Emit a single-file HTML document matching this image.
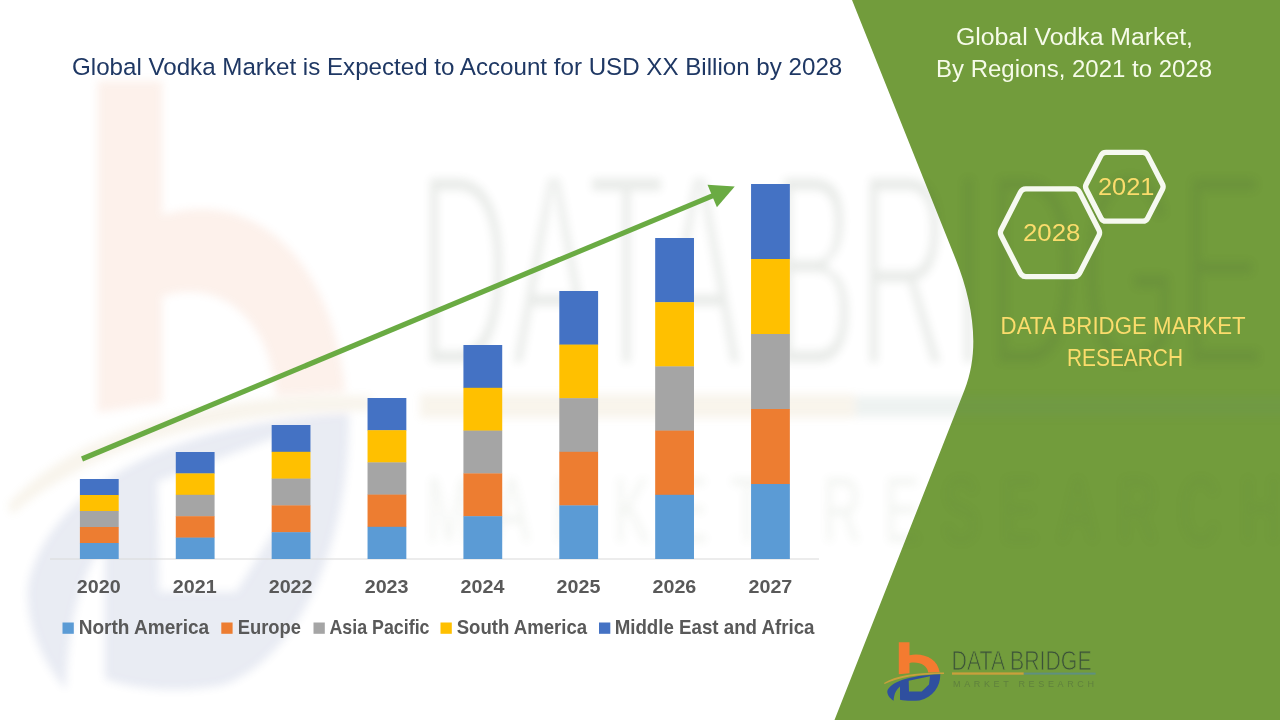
<!DOCTYPE html>
<html>
<head>
<meta charset="utf-8">
<title>Global Vodka Market</title>
<style>
html,body{margin:0;padding:0;background:#fff;}
body{width:1280px;height:720px;overflow:hidden;font-family:"Liberation Sans",sans-serif;}
svg{display:block;}
text{font-family:"Liberation Sans",sans-serif;}
</style>
</head>
<body>
<svg width="1280" height="720" viewBox="0 0 1280 720">
  <defs>
    <filter id="blur6" x="-20%" y="-20%" width="140%" height="140%"><feGaussianBlur stdDeviation="5"/></filter>
    <filter id="blur3" x="-5%" y="-5%" width="110%" height="110%"><feGaussianBlur stdDeviation="4"/><feColorMatrix type="saturate" values="0.85"/></filter>
  <mask id="thin" maskUnits="userSpaceOnUse" x="945" y="645" width="160" height="32">
      <rect x="945" y="645" width="160" height="32" fill="#000"/>
      <text x="951.6" y="669.8" font-size="27" fill="#fff" stroke="#000" stroke-width="0.9" textLength="140" lengthAdjust="spacingAndGlyphs">DATA BRIDGE</text>
    </mask>
    <g id="logoart">
      <path d="M898.8 642.3 H909.5 V655.2 C924 652.5 937.5 659 939.7 672.2 L928.2 672.6 C927.5 665.5 919.5 661.2 909.5 663 V673.2 L898.8 674.2 Z" fill="#f47b30"/>
      <path d="M884 683 C896 675.5 918 672.2 944 672.6 L944 674 C918 674 898 677.5 884.6 684 Z" fill="#c9a03c"/>
      <path fill-rule="evenodd" fill="#2f4f9f" d="M887.3 691 C890 682.5 908 675.2 940.3 674.2 C940.5 686 933 697.5 919.5 700.4 C912 701.2 905 700.8 900 699.8 V686.5 C896.5 689.5 894 693.5 893.6 700.8 C889.5 698 887 694.5 887.3 691 Z M908.7 680.8 L930 676.2 L929 684.6 L921.7 691.4 L909 691.4 Z"/>
      <rect x="945" y="645" width="160" height="32" fill="#3b5238" mask="url(#thin)"/>
      <rect x="952" y="672.4" width="71.8" height="2.3" fill="#c9a03c"/>
      <rect x="1023.8" y="672.6" width="71.8" height="2" fill="#5f9080"/>
      <text x="953" y="686.6" font-size="9" fill="#56733f" opacity="0.65" textLength="141" lengthAdjust="spacing">MARKET  RESEARCH</text>
    </g>
  </defs>
  <rect x="0" y="0" width="1280" height="720" fill="#ffffff"/>

  <!-- GREEN PANEL -->
  <path id="panel" d="M852 0 L955.7 259.2 C972.6 301.6 980.7 348.9 964.6 389.8 L834.5 720 L1280 720 L1280 0 Z" fill="#729c3c"/>

  <!-- WATERMARK: stretched logo over everything below the chart -->
  <g opacity="0.11" filter="url(#blur3)">
    <use href="#logoart" transform="translate(97.5 81) scale(6.06 10.4) translate(-898.8 -642.3)"/>
  </g>

  <!-- TITLE -->
  <text x="72" y="75" font-size="23.7" fill="#1f3864" textLength="770.3" lengthAdjust="spacingAndGlyphs">Global Vodka Market is Expected to Account for USD XX Billion by 2028</text>

  <!-- AXIS -->
  <rect x="50" y="558.5" width="769" height="1" fill="#d9d9d9"/>

  <!-- BARS -->
  <g id="bars">
    <rect x="79.90" y="479.00" width="38.8" height="16.30" fill="#4472c4"/>
    <rect x="79.90" y="495.00" width="38.8" height="16.30" fill="#ffc000"/>
    <rect x="79.90" y="511.00" width="38.8" height="16.30" fill="#a5a5a5"/>
    <rect x="79.90" y="527.00" width="38.8" height="16.30" fill="#ed7d31"/>
    <rect x="79.90" y="543.00" width="38.8" height="16.00" fill="#5b9bd5"/>
    <rect x="175.78" y="452.00" width="38.8" height="21.70" fill="#4472c4"/>
    <rect x="175.78" y="473.40" width="38.8" height="21.70" fill="#ffc000"/>
    <rect x="175.78" y="494.80" width="38.8" height="21.70" fill="#a5a5a5"/>
    <rect x="175.78" y="516.20" width="38.8" height="21.70" fill="#ed7d31"/>
    <rect x="175.78" y="537.60" width="38.8" height="21.40" fill="#5b9bd5"/>
    <rect x="271.66" y="425.00" width="38.8" height="27.10" fill="#4472c4"/>
    <rect x="271.66" y="451.80" width="38.8" height="27.10" fill="#ffc000"/>
    <rect x="271.66" y="478.60" width="38.8" height="27.10" fill="#a5a5a5"/>
    <rect x="271.66" y="505.40" width="38.8" height="27.10" fill="#ed7d31"/>
    <rect x="271.66" y="532.20" width="38.8" height="26.80" fill="#5b9bd5"/>
    <rect x="367.54" y="398.00" width="38.8" height="32.50" fill="#4472c4"/>
    <rect x="367.54" y="430.20" width="38.8" height="32.50" fill="#ffc000"/>
    <rect x="367.54" y="462.40" width="38.8" height="32.50" fill="#a5a5a5"/>
    <rect x="367.54" y="494.60" width="38.8" height="32.50" fill="#ed7d31"/>
    <rect x="367.54" y="526.80" width="38.8" height="32.20" fill="#5b9bd5"/>
    <rect x="463.42" y="345.00" width="38.8" height="43.10" fill="#4472c4"/>
    <rect x="463.42" y="387.80" width="38.8" height="43.10" fill="#ffc000"/>
    <rect x="463.42" y="430.60" width="38.8" height="43.10" fill="#a5a5a5"/>
    <rect x="463.42" y="473.40" width="38.8" height="43.10" fill="#ed7d31"/>
    <rect x="463.42" y="516.20" width="38.8" height="42.80" fill="#5b9bd5"/>
    <rect x="559.30" y="291.00" width="38.8" height="53.90" fill="#4472c4"/>
    <rect x="559.30" y="344.60" width="38.8" height="53.90" fill="#ffc000"/>
    <rect x="559.30" y="398.20" width="38.8" height="53.90" fill="#a5a5a5"/>
    <rect x="559.30" y="451.80" width="38.8" height="53.90" fill="#ed7d31"/>
    <rect x="559.30" y="505.40" width="38.8" height="53.60" fill="#5b9bd5"/>
    <rect x="655.18" y="238.00" width="38.8" height="64.50" fill="#4472c4"/>
    <rect x="655.18" y="302.20" width="38.8" height="64.50" fill="#ffc000"/>
    <rect x="655.18" y="366.40" width="38.8" height="64.50" fill="#a5a5a5"/>
    <rect x="655.18" y="430.60" width="38.8" height="64.50" fill="#ed7d31"/>
    <rect x="655.18" y="494.80" width="38.8" height="64.20" fill="#5b9bd5"/>
    <rect x="751.06" y="184.00" width="38.8" height="75.30" fill="#4472c4"/>
    <rect x="751.06" y="259.00" width="38.8" height="75.30" fill="#ffc000"/>
    <rect x="751.06" y="334.00" width="38.8" height="75.30" fill="#a5a5a5"/>
    <rect x="751.06" y="409.00" width="38.8" height="75.30" fill="#ed7d31"/>
    <rect x="751.06" y="484.00" width="38.8" height="75.00" fill="#5b9bd5"/>
  </g>

  <!-- ARROW -->
  <line x1="82" y1="459" x2="716" y2="194.3" stroke="#6aab43" stroke-width="5.2"/>
  <polygon points="734.75,186.5 707.5,184.75 716.9,207.25" fill="#6aab43"/>

  <!-- AXIS LABELS -->
  <g font-size="18" font-weight="bold" fill="#595959" text-anchor="middle">
    <text x="98.7" y="593" textLength="43.8" lengthAdjust="spacingAndGlyphs">2020</text>
    <text x="194.7" y="593" textLength="43.8" lengthAdjust="spacingAndGlyphs">2021</text>
    <text x="290.6" y="593" textLength="43.8" lengthAdjust="spacingAndGlyphs">2022</text>
    <text x="386.6" y="593" textLength="43.8" lengthAdjust="spacingAndGlyphs">2023</text>
    <text x="482.5" y="593" textLength="43.8" lengthAdjust="spacingAndGlyphs">2024</text>
    <text x="578.5" y="593" textLength="43.8" lengthAdjust="spacingAndGlyphs">2025</text>
    <text x="674.4" y="593" textLength="43.8" lengthAdjust="spacingAndGlyphs">2026</text>
    <text x="770.4" y="593" textLength="43.8" lengthAdjust="spacingAndGlyphs">2027</text>
  </g>

  <!-- LEGEND -->
  <g font-size="19.8" font-weight="bold" fill="#595959">
    <rect x="62.5" y="622.5" width="11.3" height="11.3" fill="#5b9bd5"/>
    <text x="78.7" y="634" textLength="130.5" lengthAdjust="spacingAndGlyphs">North America</text>
    <rect x="221.3" y="622.5" width="11.3" height="11.3" fill="#ed7d31"/>
    <text x="237.7" y="634" textLength="63.3" lengthAdjust="spacingAndGlyphs">Europe</text>
    <rect x="313.5" y="622.5" width="11.3" height="11.3" fill="#a5a5a5"/>
    <text x="329.5" y="634" textLength="100" lengthAdjust="spacingAndGlyphs">Asia Pacific</text>
    <rect x="440.5" y="622.5" width="11.3" height="11.3" fill="#ffc000"/>
    <text x="456.7" y="634" textLength="130.5" lengthAdjust="spacingAndGlyphs">South America</text>
    <rect x="599" y="622.5" width="11.3" height="11.3" fill="#4472c4"/>
    <text x="614.7" y="634" textLength="199.8" lengthAdjust="spacingAndGlyphs">Middle East and Africa</text>
  </g>

  <!-- RIGHT PANEL TEXT -->
  <g font-size="23" fill="#f6fbe9">
    <text x="956" y="44.5" textLength="237" lengthAdjust="spacingAndGlyphs">Global Vodka Market,</text>
    <text x="936" y="77" textLength="276" lengthAdjust="spacingAndGlyphs">By Regions, 2021 to 2028</text>
  </g>

  <!-- HEXAGONS -->
  <g fill="none" stroke="#f6f9f0" stroke-width="5.3" stroke-linejoin="round">
    <path d="M1001.09 235.45 A6.0 6.0 0 0 1 1001.09 230.00 L1020.43 192.12 A6.0 6.0 0 0 1 1025.77 188.85 L1074.23 188.85 A6.0 6.0 0 0 1 1079.57 192.12 L1098.91 230.00 A6.0 6.0 0 0 1 1098.91 235.45 L1079.57 273.33 A6.0 6.0 0 0 1 1074.23 276.60 L1025.77 276.60 A6.0 6.0 0 0 1 1020.43 273.33 Z"/>
    <path d="M1086.20 189.29 A5.5 5.5 0 0 1 1086.20 184.26 L1101.06 155.38 A5.5 5.5 0 0 1 1105.95 152.40 L1142.75 152.40 A5.5 5.5 0 0 1 1147.64 155.38 L1162.50 184.26 A5.5 5.5 0 0 1 1162.50 189.29 L1147.64 218.17 A5.5 5.5 0 0 1 1142.75 221.15 L1105.95 221.15 A5.5 5.5 0 0 1 1101.06 218.17 Z"/>
  </g>
  <g font-size="23.7" fill="#fbdc6c">
    <text x="1023" y="240.8" textLength="57.5" lengthAdjust="spacingAndGlyphs">2028</text>
    <text x="1098" y="195" textLength="56.5" lengthAdjust="spacingAndGlyphs">2021</text>
  </g>

  <g font-size="23.7" fill="#fbdc6c">
    <text x="1000.6" y="334" textLength="245" lengthAdjust="spacingAndGlyphs">DATA BRIDGE MARKET</text>
    <text x="1067" y="366" textLength="116" lengthAdjust="spacingAndGlyphs">RESEARCH</text>
  </g>

  <!-- LOGO placeholder -->
  <use href="#logoart"/>
</svg>

</body>
</html>
